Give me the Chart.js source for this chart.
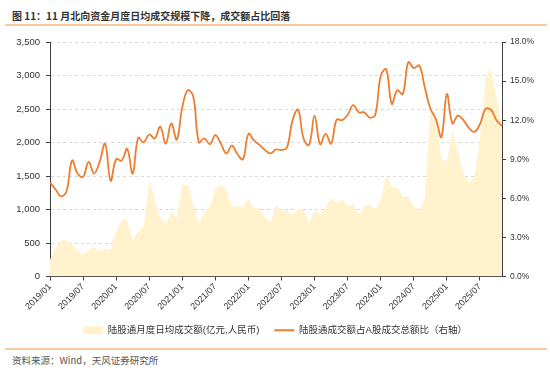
<!DOCTYPE html>
<html lang="zh-CN">
<head>
<meta charset="utf-8">
<title>北向资金月度日均成交</title>
<script src="https://cdn.jsdelivr.net/npm/chart.js@4.4.1/dist/chart.umd.min.js"></script>
<style>
    html, body { margin: 0; padding: 0; background: #fff; }
    body {
        width: 550px;
        height: 371px;
        position: relative;
        overflow: hidden;
        font-family: "Noto Sans CJK SC", "Liberation Sans", sans-serif;
    }
    .title {
        position: absolute;
        left: 12px;
        top: 8px;
        font-size: 10px;
        font-weight: bold;
        color: #333;
        white-space: nowrap;
    }
    .rule { position: absolute; left: 5px; width: 542px; height: 2px; background: #fbc99c; }
    .rule.top { top: 24px; }
    .rule.bottom { top: 348px; }
    .source {
        position: absolute;
        left: 12px;
        top: 353px;
        font-size: 9.5px;
        color: #555;
        white-space: nowrap;
    }
    .chart-box { position: absolute; left: 0; top: 30px; width: 550px; height: 315px; }
</style>
</head>
<body>
<div class="title">图 11：11 月北向资金月度日均成交规模下降，成交额占比回落</div>
<div class="rule top"></div>
<div class="chart-box"><canvas id="northboundChart"></canvas></div>
<div class="rule bottom"></div>
<div class="source">资料来源：Wind，天风证券研究所</div>

<script>
// month categories, 2019/01 .. 2025/11
const months = [];
for (let y = 2019; y <= 2025; y++) {
    for (let m = 1; m <= 12; m++) {
        if (y === 2025 && m > 11) break;
        months.push(`${y}/${String(m).padStart(2, '0')}`);
    }
}

const shownTicks = ['2019/01', '2019/07', '2020/01', '2020/07', '2021/01', '2021/07', '2022/01',
    '2022/07', '2023/01', '2023/07', '2024/01', '2024/07', '2025/01', '2025/07'];

// 陆股通月度日均成交额 (亿元)
const dailyTurnover = [
    250, 420, 545, 540, 470, 400, 320, 395, 440, 385, 405, 400,
    680, 840, 845, 530, 670, 740, 1440, 1140, 880, 780, 975, 870,
    1375, 1360, 1085, 805, 955, 1040, 1305, 1365, 1305, 1030, 1065, 1030,
    1155, 1005, 1030, 880, 805, 1070, 990, 980, 905, 1020, 995, 815,
    970, 930, 1030, 1170, 1105, 1145, 1045, 1080, 925, 1045, 1080, 995,
    1140, 1505, 1340, 1320, 1190, 1195, 1045, 980, 1170, 2500, 2380, 1760,
    1705, 2180, 1880, 1530, 1405, 1480, 2050, 2960, 3110, 2680, 2258
];

// 陆股通成交额占A股成交总额比 (%)
const turnoverShare = [
    7.2, 6.7, 6.15, 6.55, 8.9, 7.9, 7.65, 8.8, 7.9, 8.8, 10.2, 7.35,
    9.0, 8.9, 9.8, 7.9, 10.65, 10.3, 10.9, 10.6, 11.5, 10.2, 11.75, 10.5,
    13.0, 14.3, 13.8, 10.3, 10.6, 10.15, 10.85, 10.2, 9.45, 10.05, 9.4, 9.0,
    10.95, 10.45, 10.1, 9.7, 9.45, 9.75, 9.7, 9.9, 12.0, 12.8, 10.6, 10.1,
    12.35, 10.15, 10.95, 10.2, 12.05, 12.0, 12.4, 13.15, 12.6, 12.6, 12.2, 12.4,
    15.4, 15.9, 13.25, 14.3, 14.0, 16.45, 16.0, 16.2, 14.5, 12.9, 12.1, 10.7,
    14.0, 11.75, 12.35, 12.0, 11.4, 11.1, 11.7, 12.85, 12.8, 12.0, 11.55
];

const axisColor = '#404040';
const labelColor = '#333';

window.addEventListener('DOMContentLoaded', () => {
    renderChart();
});

function renderChart() {
    const ctx = document.getElementById('northboundChart');
    if (!ctx) return;

    new Chart(ctx.getContext('2d'), {
        type: 'line',
        data: {
            labels: months,
            datasets: [{
                label: '陆股通月度日均成交额(亿元,人民币)',
                data: dailyTurnover,
                yAxisID: 'y',
                fill: 'origin',
                backgroundColor: '#fff2cc',
                borderColor: '#fff2cc',
                borderWidth: 0,
                pointRadius: 0,
                pointStyle: 'rect',
                tension: 0,
                order: 2
            }, {
                label: '陆股通成交额占A股成交总额比（右轴）',
                data: turnoverShare,
                yAxisID: 'y1',
                fill: false,
                borderColor: '#ed7d31',
                backgroundColor: '#ed7d31',
                borderWidth: 1.8,
                pointRadius: 0,
                pointStyle: 'line',
                tension: 0.4,
                order: 1
            }]
        },
        options: {
            responsive: true,
            maintainAspectRatio: false,
            animation: false,
            layout: { padding: { top: 12, left: 0, right: 0, bottom: 0 } },
            plugins: {
                tooltip: { enabled: false },
                legend: {
                    position: 'bottom',
                    labels: {
                        usePointStyle: true,
                        pointStyleWidth: 20,
                        boxHeight: 8,
                        padding: 15,
                        color: labelColor,
                        font: { family: '"Liberation Sans", "Noto Sans CJK SC", sans-serif', size: 9.5 },
                        sort: (a, b) => a.datasetIndex - b.datasetIndex
                    }
                }
            },
            scales: {
                x: {
                    type: 'category',
                    grid: {
                        drawOnChartArea: false,
                        tickLength: 4,
                        tickColor: (c) => shownTicks.includes(months[c.index]) ? axisColor : 'transparent'
                    },
                    border: { color: axisColor, width: 1 },
                    ticks: {
                        autoSkip: false,
                        maxRotation: 45,
                        minRotation: 45,
                        padding: 1,
                        color: labelColor,
                        font: { family: '"Liberation Sans", sans-serif', size: 9 },
                        callback: (val, idx) => shownTicks.includes(months[idx]) ? months[idx] : ''
                    },
                    afterFit: (scale) => { scale.height = 34; }
                },
                y: {
                    position: 'left',
                    min: 0,
                    max: 3500,
                    grid: {
                        color: '#d9d9d9',
                        tickColor: axisColor,
                        tickLength: 4
                    },
                    border: { color: axisColor, width: 1, dash: [3, 3] },
                    ticks: {
                        stepSize: 500,
                        padding: 6,
                        color: labelColor,
                        font: { family: '"Liberation Sans", sans-serif', size: 9.5 },
                        callback: (v) => v.toLocaleString('en-US')
                    },
                    afterFit: (scale) => { scale.width = 50; }
                },
                y1: {
                    position: 'right',
                    min: 0,
                    max: 18,
                    grid: {
                        drawOnChartArea: false,
                        tickColor: axisColor,
                        tickLength: 4
                    },
                    border: { color: axisColor, width: 1 },
                    ticks: {
                        stepSize: 3,
                        padding: 4,
                        color: labelColor,
                        font: { family: '"Liberation Sans", sans-serif', size: 8.5 },
                        callback: (v) => v.toFixed(1) + '%'
                    },
                    afterFit: (scale) => { scale.width = 48; }
                }
            }
        }
    });
}
</script>
</body>
</html>
